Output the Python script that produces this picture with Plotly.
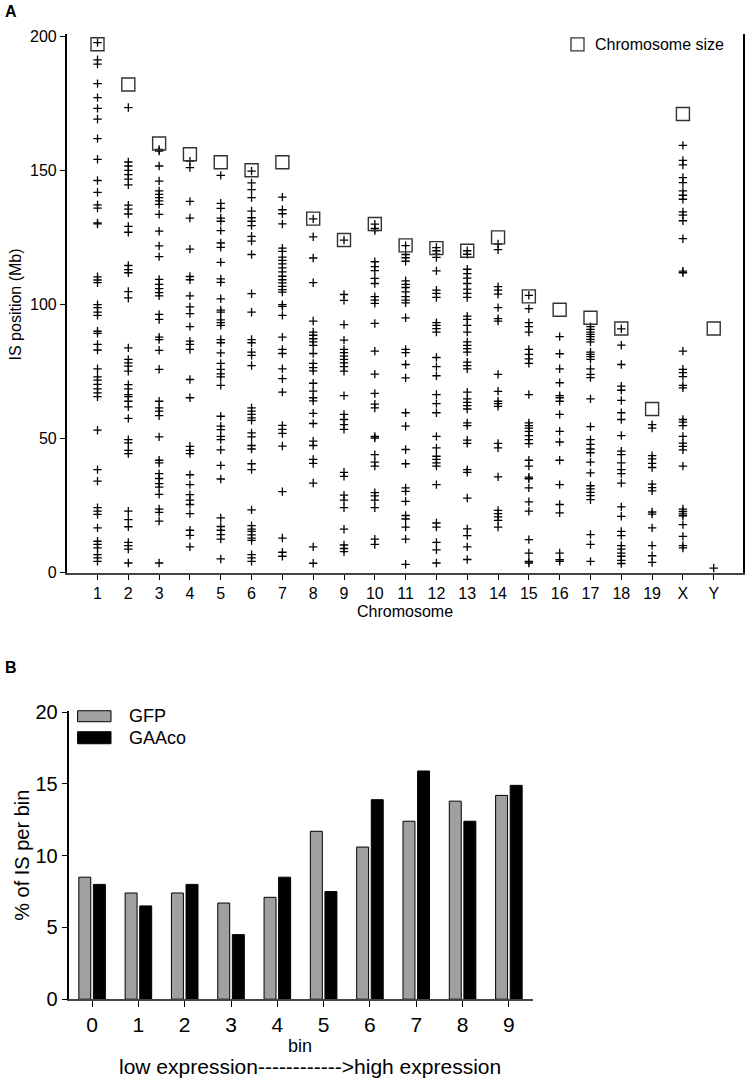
import plotly.graph_objects as go

# ---------------- data: panel A ----------------
chr_labels = ["1", "2", "3", "4", "5", "6", "7", "8", "9", "10", "11", "12", "13",
              "14", "15", "16", "17", "18", "19", "X", "Y"]
chrom_size = [197, 182, 160, 156, 153, 150, 153, 132, 124, 130, 122, 121, 120,
              125, 103, 98, 95, 91, 61, 171, 91]

is_chr1 = [197.6, 191.2, 189.6, 182.3, 177.1, 173.1, 169.1, 161.8, 154.1, 146.2, 141.8, 137.1,
           135.9, 130.4, 130.0, 110.3, 109.1, 108.1, 99.9, 98.8, 97.1, 95.9, 90.0, 89.2, 85.1,
           83.0, 76.0, 73.0, 71.8, 70.2, 68.5, 67.0, 65.6, 53.1, 38.4, 34.1, 24.2, 22.9, 21.7,
           16.7, 11.7, 10.5, 9.2, 6.7, 5.5, 4.2]
is_chr2 = [173.4, 153.1, 151.6, 150.0, 148.4, 146.7, 144.6, 137.0, 135.5, 133.7, 129.1, 126.9,
           114.5, 113.0, 111.8, 104.8, 102.4, 83.8, 79.5, 78.2, 77.0, 75.1, 70.1, 68.5, 66.4,
           65.6, 63.9, 61.8, 57.5, 49.6, 48.4, 45.6, 44.4, 22.9, 19.8, 17.1, 11.3, 10.1, 8.8, 3.6]
is_chr3 = [157.8, 157.2, 151.6, 146.0, 142.3, 141.0, 139.8, 138.6, 137.3, 133.6, 127.3, 121.8,
           117.8, 109.3, 107.5, 105.9, 104.4, 103.2, 96.3, 94.4, 87.8, 86.9, 82.9, 75.8, 63.9,
           61.4, 60.2, 58.5, 50.6, 41.9, 40.9, 36.9, 35.1, 33.2, 31.9, 29.2, 23.7, 22.5, 19.2, 3.6]
is_chr4 = [153.4, 151.0, 138.4, 132.2, 120.6, 110.4, 109.2, 103.2, 99.1, 96.6, 91.7, 86.3, 85.1,
           83.2, 72.0, 65.2, 47.1, 45.6, 44.4, 36.5, 32.8, 29.1, 27.0, 25.4, 22.0, 15.8, 13.9, 9.6]
is_chr5 = [148.1, 137.7, 135.8, 132.2, 131.0, 127.5, 122.9, 121.3, 115.7, 109.5, 108.2, 102.1,
           97.9, 97.1, 94.2, 93.2, 92.2, 86.9, 85.7, 81.9, 78.0, 75.8, 74.1, 73.0, 69.8, 58.3,
           54.6, 53.3, 50.8, 49.6, 45.8, 40.0, 34.9, 20.4, 17.2, 15.8, 14.2, 12.5, 5.1]
is_chr6 = [149.7, 145.3, 142.8, 139.8, 134.8, 132.3, 131.0, 129.4, 125.4, 123.6, 118.6, 104.0,
           97.1, 86.9, 85.7, 82.2, 81.0, 77.2, 61.4, 60.2, 59.0, 57.7, 56.8, 52.1, 50.6, 47.4,
           46.1, 40.6, 38.4, 23.4, 17.5, 16.2, 15.4, 14.1, 12.9, 12.0, 6.7, 5.5, 4.2]
is_chr7 = [140.0, 135.3, 133.8, 130.0, 121.0, 119.8, 117.6, 116.4, 115.1, 113.6, 112.1, 110.5,
           109.2, 108.0, 106.7, 105.5, 104.6, 99.9, 99.3, 95.9, 87.8, 83.2, 81.7, 76.0, 72.3,
           67.3, 54.9, 53.4, 51.9, 47.2, 30.2, 12.9, 7.6, 6.1]
is_chr8 = [131.9, 125.2, 117.3, 108.1, 93.8, 89.7, 88.5, 87.2, 86.0, 84.7, 81.7, 78.0, 76.4, 75.2,
           70.6, 67.7, 65.2, 64.0, 59.4, 55.6, 49.0, 47.4, 42.2, 40.7, 33.4, 9.6, 3.5]
is_chr9 = [124.0, 103.7, 101.5, 92.5, 86.7, 83.2, 82.0, 80.7, 79.5, 78.2, 76.8, 75.1, 66.0, 59.0,
           57.1, 55.2, 53.4, 37.4, 35.9, 28.9, 27.0, 24.2, 16.2, 10.3, 9.0, 7.8]
is_chr10 = [129.9, 128.3, 127.5, 115.9, 114.1, 112.6, 109.7, 107.8, 102.9, 101.6, 100.4, 92.9,
            82.6, 74.0, 66.8, 62.8, 61.4, 50.8, 50.2, 44.0, 41.2, 39.7, 29.8, 28.6, 27.0, 24.2,
            12.5, 10.5]
is_chr11 = [121.9, 118.6, 117.4, 116.1, 108.8, 107.5, 106.3, 104.7, 102.9, 101.6, 100.6, 95.0,
            83.2, 82.0, 77.6, 72.6, 59.6, 54.6, 45.9, 40.6, 31.6, 30.3, 26.6, 21.3, 20.0, 17.0,
            12.5, 3.1]
is_chr12 = [121.2, 120.0, 118.7, 117.5, 112.5, 105.3, 104.1, 102.6, 93.2, 92.2, 91.0, 89.7, 80.2,
            76.8, 73.4, 66.4, 63.0, 59.6, 50.8, 46.5, 43.4, 42.2, 40.9, 39.7, 32.8, 18.5, 17.0,
            11.3, 8.5, 3.6]
is_chr13 = [120.0, 118.7, 113.1, 111.5, 109.8, 107.8, 105.7, 104.1, 102.6, 95.6, 94.4, 92.2, 89.7,
            86.0, 84.7, 83.5, 82.2, 78.5, 77.2, 76.0, 67.3, 64.8, 63.5, 62.3, 61.0, 55.8, 54.8,
            49.4, 48.2, 38.4, 37.4, 27.8, 16.3, 13.8, 9.6, 4.9]
is_chr14 = [122.5, 120.4, 106.6, 105.3, 103.8, 98.8, 94.7, 93.8, 73.9, 67.6, 63.9, 63.0, 62.0,
            48.2, 46.5, 35.7, 23.2, 22.0, 20.8, 19.5, 17.0]
is_chr15 = [103.4, 98.4, 93.2, 91.7, 89.7, 83.2, 81.4, 79.7, 78.0, 66.4, 55.8, 54.8, 53.9, 52.7,
            51.1, 49.6, 48.1, 41.9, 39.7, 35.6, 35.0, 31.6, 26.4, 22.9, 12.3, 7.3, 4.2, 3.6]
is_chr16 = [88.0, 81.6, 76.0, 70.8, 66.0, 65.2, 63.9, 59.0, 52.7, 48.7, 41.9, 32.8, 25.4, 22.3,
            7.3, 4.8, 4.2]
is_chr17 = [91.7, 90.7, 89.7, 88.8, 88.0, 87.0, 86.0, 82.2, 81.4, 80.5, 79.5, 76.0, 73.9, 72.7,
            64.8, 54.4, 49.6, 47.8, 46.1, 44.7, 41.2, 37.2, 32.4, 31.2, 29.9, 28.7, 27.2, 14.2,
            10.5, 4.2]
is_chr18 = [90.9, 84.8, 77.6, 69.5, 68.0, 64.2, 59.6, 57.1, 51.1, 45.3, 44.0, 40.9, 38.4, 36.9,
            33.4, 24.5, 21.0, 15.4, 13.8, 10.1, 8.8, 7.3, 6.1, 4.6, 3.4]
is_chr19 = [55.2, 53.9, 43.6, 42.4, 40.7, 39.2, 33.0, 31.7, 30.5, 22.6, 21.8, 16.7, 10.1, 6.3, 3.8]
is_chrX = [159.3, 153.7, 152.0, 147.3, 145.4, 142.3, 140.7, 139.2, 134.5, 133.3, 131.2, 124.5,
           112.4, 111.8, 82.6, 75.8, 74.6, 73.1, 69.8, 68.9, 57.1, 56.1, 54.8, 50.8, 48.3, 47.1,
           45.8, 39.7, 23.7, 22.8, 21.9, 21.2, 17.9, 13.5, 10.1, 9.2]
is_chrY = [1.7]

is_positions = [is_chr1, is_chr2, is_chr3, is_chr4, is_chr5, is_chr6, is_chr7, is_chr8, is_chr9,
                is_chr10, is_chr11, is_chr12, is_chr13, is_chr14, is_chr15, is_chr16, is_chr17,
                is_chr18, is_chr19, is_chrX, is_chrY]

# ---------------- data: panel B ----------------
bins = [0, 1, 2, 3, 4, 5, 6, 7, 8, 9]
gfp_pct = [8.5, 7.4, 7.4, 6.7, 7.1, 11.7, 10.6, 12.4, 13.8, 14.2]
gaaco_pct = [8.0, 6.5, 8.0, 4.5, 8.5, 7.5, 13.9, 15.9, 12.4, 14.9]

# ---------------- figure ----------------
W, H = 747, 1082
FONT = "Liberation Sans, Arial, sans-serif"


def px(x):
    return x / W


def py(y):
    # vertical pixel (from top) -> paper fraction, with a small calibration
    yy = (y - 10.7) / 0.980
    return 1 - yy / H


fig = go.Figure()

xs, ys = [], []
for i, vals in enumerate(is_positions):
    xs += [i + 1] * len(vals)
    ys += vals

fig.add_trace(go.Scatter(
    x=xs, y=ys, mode="markers", showlegend=False, cliponaxis=False,
    marker=dict(symbol="cross-thin", size=6, color="black",
                line=dict(width=1.3, color="black")),
    xaxis="x", yaxis="y"))

fig.add_trace(go.Scatter(
    x=list(range(1, len(chr_labels) + 1)), y=chrom_size, mode="markers",
    showlegend=False, cliponaxis=False,
    marker=dict(symbol="square-open", size=13, color="#333333",
                line=dict(width=1.4, color="#333333")),
    xaxis="x", yaxis="y"))

fig.add_trace(go.Bar(
    x=bins, y=gfp_pct, name="GFP", showlegend=False,
    marker=dict(color="#a0a0a0", line=dict(color="black", width=1)),
    xaxis="x2", yaxis="y2"))
fig.add_trace(go.Bar(
    x=bins, y=gaaco_pct, name="GAAco", showlegend=False,
    marker=dict(color="black", line=dict(color="black", width=1)),
    xaxis="x2", yaxis="y2"))

axis_common = dict(showgrid=False, zeroline=False, ticks="outside", ticklen=5,
                   tickcolor="black", tickwidth=1.2, showline=True)

fig.update_layout(
    width=W, height=H,
    margin=dict(l=0, r=0, t=0, b=0),
    paper_bgcolor="white", plot_bgcolor="white",
    font=dict(family=FONT, color="black"),
    barmode="group", bargap=0.37, bargroupgap=0.18,
    xaxis=dict(axis_common, domain=[px(66.7), px(743)], range=[0.0, 21.95],
               tickvals=list(range(1, len(chr_labels) + 1)), ticktext=chr_labels,
               linecolor="#444444", linewidth=2, tickfont=dict(size=16),
               anchor="y"),
    yaxis=dict(axis_common, domain=[py(573), py(35)], range=[0, 200.7],
               tickvals=[0, 50, 100, 150, 200], linecolor="black", linewidth=1.5,
               mirror=True, tickfont=dict(size=16), anchor="x"),
    xaxis2=dict(axis_common, domain=[px(69.4), px(532.5)], range=[-0.49, 9.51],
                tickvals=bins, ticktext=[str(b) for b in bins],
                linecolor="#444444", linewidth=2, tickfont=dict(size=21),
                anchor="y2", ticklen=6),
    yaxis2=dict(axis_common, domain=[py(999.3), py(711)], range=[0, 20.1],
                tickvals=[0, 5, 10, 15, 20], linecolor="black", linewidth=1.5,
                tickfont=dict(size=20), anchor="x2", ticklen=6),
)

annotations = [
    dict(text="<b>A</b>", x=px(3), y=py(12), xanchor="left", yanchor="middle",
         font=dict(size=16)),
    dict(text="<b>B</b>", x=px(3), y=py(668), xanchor="left", yanchor="middle",
         font=dict(size=16)),
    dict(text="IS position (Mb)", x=px(15), y=py(305), textangle=-90,
         xanchor="center", yanchor="middle", font=dict(size=16)),
    dict(text="Chromosome", x=px(405), y=py(612), xanchor="center", yanchor="middle",
         font=dict(size=16)),
    dict(text="Chromosome size", x=px(593), y=py(45), xanchor="left", yanchor="middle",
         font=dict(size=16)),
    dict(text="% of IS per bin", x=px(22), y=py(856), textangle=-90,
         xanchor="center", yanchor="middle", font=dict(size=20)),
    dict(text="bin", x=px(300), y=py(1046), xanchor="center", yanchor="middle",
         font=dict(size=18)),
    dict(text="low expression------------>high expression", x=px(310), y=py(1067),
         xanchor="center", yanchor="middle", font=dict(size=21)),
    dict(text="GFP", x=px(127), y=py(716), xanchor="left", yanchor="middle",
         font=dict(size=18)),
    dict(text="GAAco", x=px(127), y=py(738), xanchor="left", yanchor="middle",
         font=dict(size=18)),
]
for a in annotations:
    a.update(xref="paper", yref="paper", showarrow=False)
fig.update_layout(annotations=annotations)

shapes = [
    dict(type="rect", x0=px(571), x1=px(584), y0=py(51.5), y1=py(38.5),
         line=dict(color="#333333", width=1.3), fillcolor="white"),
    dict(type="rect", x0=px(77.6), x1=px(111), y0=py(722), y1=py(711),
         line=dict(color="black", width=1), fillcolor="#a0a0a0"),
    dict(type="rect", x0=px(77.6), x1=px(111), y0=py(744), y1=py(732),
         line=dict(color="black", width=1), fillcolor="black"),
]
for s in shapes:
    s.update(xref="paper", yref="paper")
fig.update_layout(shapes=shapes)

fig.write_html("out.html", config={"displayModeBar": False},
               post_script="document.body.style.margin='0';document.body.style.overflow='hidden';")
